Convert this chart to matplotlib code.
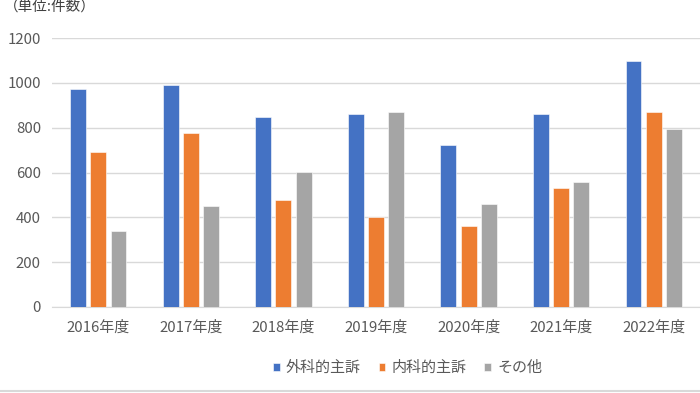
import matplotlib.pyplot as plt
import numpy as np

plt.rcParams['font.family'] = ['Noto Sans CJK JP', 'DejaVu Sans']

years = ['2016年度', '2017年度', '2018年度', '2019年度', '2020年度', '2021年度', '2022年度']
surgical = [974, 992, 849, 863, 723, 861, 1097]
internal = [690, 778, 479, 402, 363, 533, 869]
other = [341, 452, 603, 872, 460, 559, 792]
series_names = ['外科的主訴', '内科的主訴', 'その他']
colors = ['#4472C4', '#ED7D31', '#A5A5A5']

fig = plt.figure(figsize=(7, 3.93), dpi=100)
ax = fig.add_axes([52/700, 1-307/393, 648/700, 269/393])

x = np.arange(len(years))
w = 0.172
step = 0.218
for i, (vals, name, c) in enumerate(zip([surgical, internal, other], series_names, colors)):
    ax.bar(x + (i-1)*step, vals, w, color=c, label=name, zorder=3,
           edgecolor='white', linewidth=0.4)

ax.set_xlim(-0.5, len(years)-0.5)
ax.set_ylim(0, 1200)
ax.set_yticks(range(0, 1201, 200))
ax.set_xticks(x)
ax.set_xticklabels(years)
ax.grid(axis='y', color='#d9d9d9', linewidth=1, zorder=0)
for s in ['top', 'right', 'left']:
    ax.spines[s].set_visible(False)
ax.spines['bottom'].set_color('#d9d9d9')
ax.tick_params(length=0, labelsize=10.8, colors='#595959')
ax.tick_params(axis='y', pad=8)
ax.tick_params(axis='x', pad=10)

fig.text(0.005, 0.982, '（単位:件数）', fontsize=10.5, color='#404040', va='center', ha='left')

fig.legend(loc='center', bbox_to_anchor=(0.582, 0.064), ncol=3, frameon=False,
           fontsize=10.8, handlelength=0.45, handleheight=0.45, handletextpad=0.4,
           columnspacing=1.2, labelcolor='#595959')

fig.add_artist(plt.Line2D([0, 1], [0.004, 0.004], color='#d9d9d9', linewidth=1.5))

fig.savefig('out.png', dpi=100)
